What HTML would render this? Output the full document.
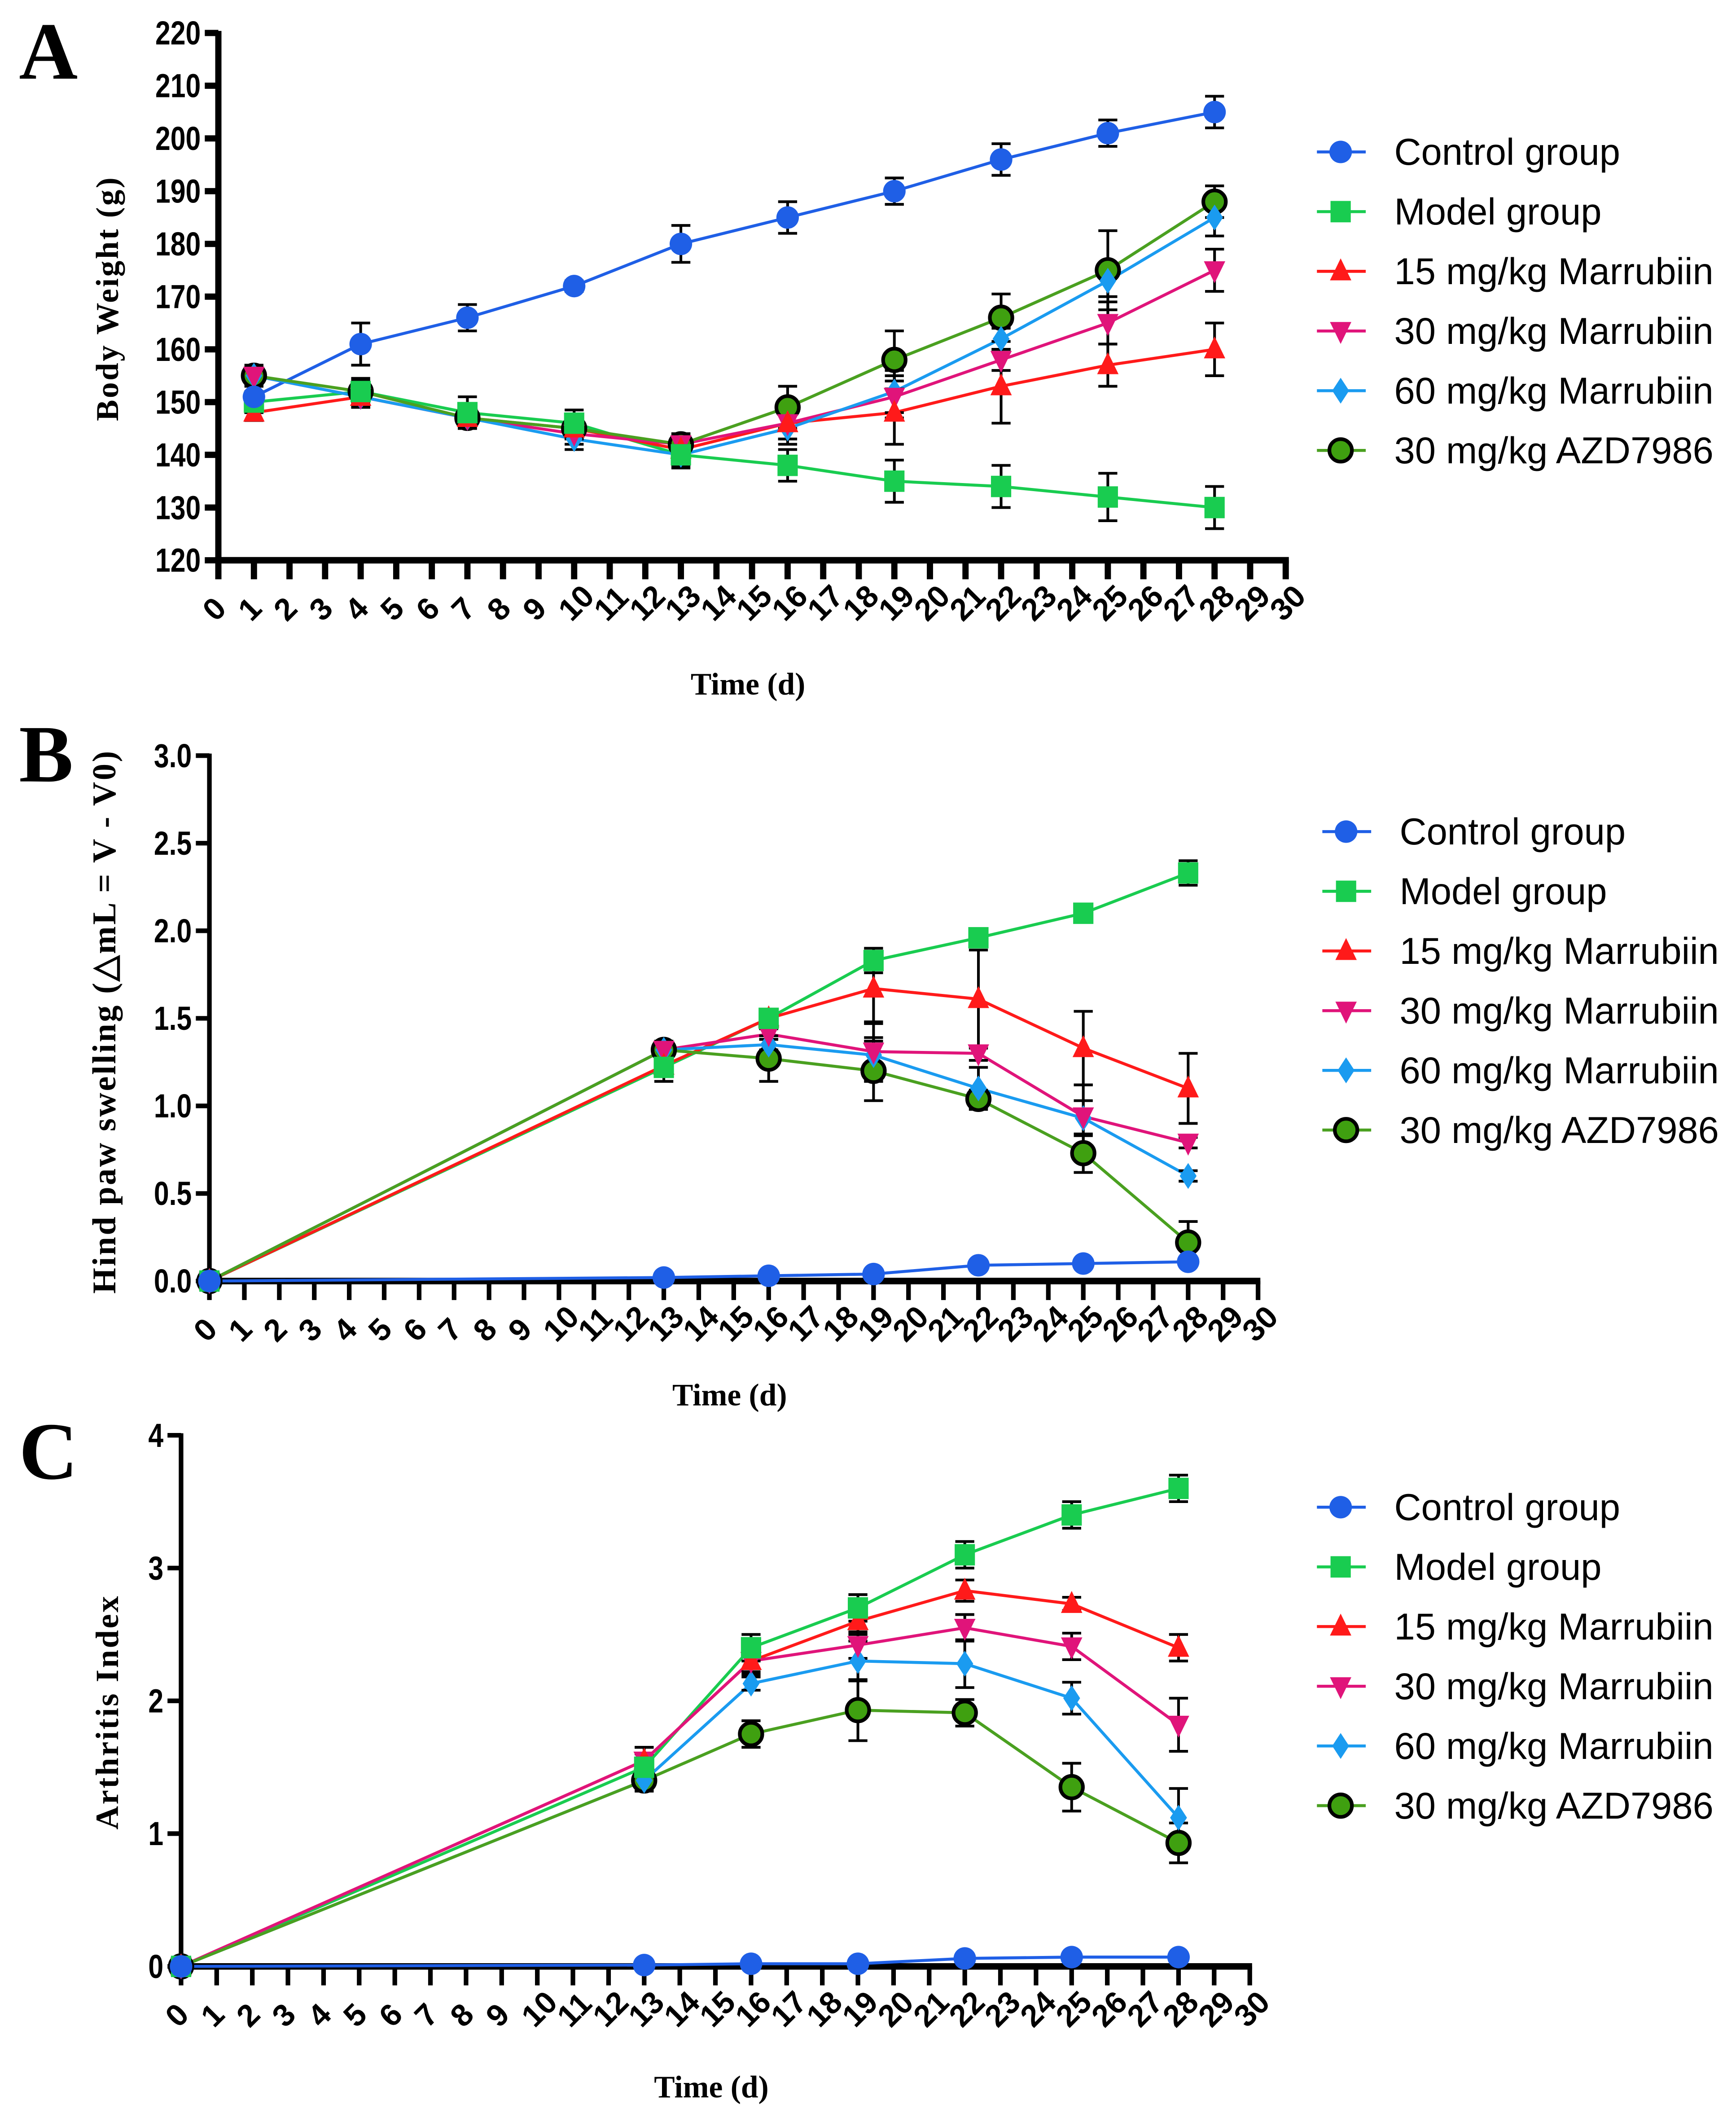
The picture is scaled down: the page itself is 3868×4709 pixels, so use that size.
<!DOCTYPE html>
<html><head><meta charset="utf-8">
<style>
html,body{margin:0;padding:0;background:#fff;}
svg{display:block;}
</style></head>
<body>
<svg id="fig" xmlns="http://www.w3.org/2000/svg" width="3868" height="4709" viewBox="0 0 1280 1558.3">
<rect width="1280" height="1558.3" fill="#fff"/>
</svg>
<script>
// ---- Panel A data (Body weight) ----
const daysA = [1,4,7,10,13,16,19,22,25,28];
const ctrlA = [151,161,166,172,180,185,190,196,201,205];
const ctrlAerr = [3,4,2.5,1,3.5,3,2.5,3,2.5,3];
const modelA = [150,152,148,146,140,138,135,134,132,130];
const modelAerr = [2,2,3,2.5,2.5,3,4,4,4.5,4];
const m15A = [148,151,147,145,141,146,148,153,157,160];
const m15Aerr = [1.5,2,2,2,2,3,6,7,4,5];
const m30A = [155,151,147,144,142,146,151,158,165,175];
const m30Aerr = [1.5,2,2,2,2,3,4,2,4,4];
const m60A = [155,151,147,143,140,145,152,162,173,185];
const m60Aerr = [1.5,2,2,2,2,3,4,2,3,3.5];
const azdA = [155,152,147,145,142,149,158,166,175,188];
const azdAerr = [2,2.5,2,2,2,4,5.5,4.5,7.5,3];
const ticksA = [120,130,140,150,160,170,180,190,200,210,220];

// ---- Panel B data (Hind paw swelling) ----
const daysB = [0,13,16,19,22,25,28];
const ctrlB = [0,0.02,0.03,0.04,0.09,0.10,0.11];
const ctrlBerr = [0,0,0,0,0,0,0];
const modelB = [0,1.22,1.50,1.83,1.96,2.10,2.33];
const modelBerr = [0,0.08,0.03,0.07,0.04,0.02,0.07];
const m15B = [0,1.23,1.50,1.67,1.61,1.33,1.10];
const m15Berr = [0,0.05,0.03,0.2,0.28,0.21,0.2];
const m30B = [0,1.32,1.41,1.31,1.30,0.94,0.79];
const m30Berr = [0,0.05,0.03,0.17,0.04,0.18,0.03];
const m60B = [0,1.32,1.35,1.29,1.10,0.93,0.60];
const m60Berr = [0,0.04,0.03,0.1,0.12,0.1,0.03];
const azdB = [0,1.32,1.27,1.20,1.04,0.73,0.22];
const azdBerr = [0,0.04,0.13,0.17,0.05,0.11,0.12];
const ticksB = [0,0.5,1.0,1.5,2.0,2.5,3.0];

// ---- Panel C data (Arthritis index) ----
const daysC = [0,13,16,19,22,25,28];
const ctrlC = [0,0.01,0.02,0.02,0.06,0.07,0.07];
const ctrlCerr = [0,0,0,0,0,0,0];
const modelC = [0,1.5,2.4,2.7,3.1,3.4,3.6];
const modelCerr = [0,0.1,0.1,0.1,0.1,0.1,0.1];
const m15C = [0,1.55,2.3,2.6,2.83,2.73,2.4];
const m15Cerr = [0,0.1,0.1,0.1,0.08,0.05,0.1];
const m30C = [0,1.55,2.3,2.42,2.55,2.41,1.82];
const m30Cerr = [0,0.1,0.08,0.1,0.1,0.1,0.2];
const m60C = [0,1.4,2.13,2.3,2.28,2.02,1.12];
const m60Cerr = [0,0.05,0.05,0.15,0.18,0.12,0.22];
const azdC = [0,1.4,1.75,1.93,1.91,1.35,0.93];
const azdCerr = [0,0.08,0.1,0.23,0.1,0.18,0.15];
const ticksC = [0,1,2,3,4];

const groupNames = ["Control group","Model group","15 mg/kg Marrubiin","30 mg/kg Marrubiin","60 mg/kg Marrubiin","30 mg/kg AZD7986"];
const xTicks = [0,1,2,3,4,5,6,7,8,9,10,11,12,13,14,15,16,17,18,19,20,21,22,23,24,25,26,27,28,29,30];

const NS = "http://www.w3.org/2000/svg";
const svg = document.getElementById("fig");
function mk(tag, attrs, parent){
  const e = document.createElementNS(NS, tag);
  for (const k in attrs) e.setAttribute(k, attrs[k]);
  (parent||svg).appendChild(e);
  return e;
}
const styles = [
  {line:"#1f5fe6", fill:"#1f5fe6", stroke:"none", shape:"circle"},
  {line:"#19cc50", fill:"#19cc50", stroke:"none", shape:"square"},
  {line:"#ff1a1a", fill:"#ff1a1a", stroke:"none", shape:"tri"},
  {line:"#e0147a", fill:"#e0147a", stroke:"none", shape:"tridown"},
  {line:"#1a9bf0", fill:"#1a9bf0", stroke:"none", shape:"diamond"},
  {line:"#4aa020", fill:"#3fa010", stroke:"#000", shape:"circle"}
];
function marker(g, s, x, y){
  const r = 8.3;
  let e;
  if (s.shape==="circle"){
    e = mk("circle",{cx:x,cy:y,r:r,fill:s.fill,stroke:s.stroke,"stroke-width":2.7},g);
  } else if (s.shape==="square"){
    e = mk("rect",{x:x-r*0.9,y:y-r*0.95,width:r*1.8,height:r*1.9,fill:s.fill},g);
  } else if (s.shape==="tri"){
    e = mk("polygon",{points:`${x},${y-r*1.15} ${x+r*0.95},${y+r*0.8} ${x-r*0.95},${y+r*0.8}`,fill:s.fill},g);
  } else if (s.shape==="tridown"){
    e = mk("polygon",{points:`${x},${y+r*1.15} ${x+r*0.95},${y-r*0.8} ${x-r*0.95},${y-r*0.8}`,fill:s.fill},g);
  } else {
    e = mk("polygon",{points:`${x},${y-r*1.15} ${x+r*0.75},${y} ${x},${y+r*1.15} ${x-r*0.75},${y}`,fill:s.fill},g);
  }
  
  
}

function panel(cfg){
  const {id,letter,letterY,x0,xEnd,y0,yTop,yMin,yMax,yTicks,yFmt,days,series,errs,ytitle,ytitleX,ytitleY,ytitleSize,xtitleY,legX,legY,tw} = cfg;
  const g = mk("g",{});
  
  
  const xs = d => x0 + (xEnd-x0)*d/30;
  const ys = v => y0 - (y0-yTop)*(v-yMin)/(yMax-yMin);
  const L = mk("text",{x:14,y:letterY,"font-family":"Liberation Serif, serif","font-weight":"bold","font-size":60},g);
  L.textContent = letter;
  
  
  const ax = mk("path",{d:`M${x0},${yTop-1.5} V${y0}`,fill:"none",stroke:"#000","stroke-width":tw},g);
  
  
  const xa = mk("line",{x1:x0-tw/2,y1:y0,x2:xEnd+tw/2,y2:y0,stroke:"#000","stroke-width":4.8},g);
  
  
  yTicks.forEach(t=>{
    const y = ys(t);
    mk("line",{x1:x0-10,y1:y,x2:x0,y2:y,stroke:"#000","stroke-width":tw},g);
    const tx = mk("text",{x:x0-13,y:y+8.5,"text-anchor":"end","font-family":"Liberation Sans, sans-serif","font-weight":"bold","font-size":24.5},g);
    tx.setAttribute("transform",`translate(${x0-13},${y}) scale(0.82,1) translate(${-(x0-13)},${-y})`);
    tx.textContent = yFmt(t);
    
    
  });
  xTicks.forEach(t=>{
    const x = xs(t);
    mk("line",{x1:x,y1:y0,x2:x,y2:y0+14,stroke:"#000","stroke-width":tw},g);
    const tx = mk("text",{x:0,y:0,"text-anchor":"start","font-family":"Liberation Sans, sans-serif","font-weight":"bold","font-size":23,transform:`translate(${x-2},${y0+46}) rotate(-45)`},g);
    tx.textContent = t;
    
    
  });
  const yt = mk("text",{x:0,y:0,"text-anchor":"middle","font-family":"Liberation Serif, serif","font-weight":"bold","font-size":ytitleSize,"letter-spacing":1.2,transform:`translate(${ytitleX},${ytitleY}) rotate(-90)`},g);
  yt.textContent = ytitle;
  
  
  const xt = mk("text",{x:(x0+xEnd)/2-3,y:xtitleY,"text-anchor":"middle","font-family":"Liberation Serif, serif","font-weight":"bold","font-size":23},g);
  xt.textContent = "Time (d)";
  
  
  series.forEach((vals,si)=>{
    const s = styles[si];
    const sg = mk("g",{},g);
    
    
    const pts = days.map((d,i)=>`${xs(d)},${ys(vals[i])}`).join(" ");
    mk("polyline",{points:pts,fill:"none",stroke:s.line,"stroke-width":2.2},sg);
  });
  series.forEach((vals,si)=>{
    const eg = mk("g",{},g);
    
    
    days.forEach((d,i)=>{
      const e = errs[si][i];
      if (!e) return;
      const x = xs(d), y1 = ys(vals[i]-e), y2 = ys(vals[i]+e);
      mk("line",{x1:x,y1:y1,x2:x,y2:y2,stroke:"#000","stroke-width":2},eg);
      mk("line",{x1:x-7,y1:y1,x2:x+7,y2:y1,stroke:"#000","stroke-width":2},eg);
      mk("line",{x1:x-7,y1:y2,x2:x+7,y2:y2,stroke:"#000","stroke-width":2},eg);
    });
  });
  [5,4,3,2,1,0].forEach(si=>{
    const mg = mk("g",{},g);
    
    
    days.forEach((d,i)=>marker(mg,styles[si],xs(d),ys(series[si][i])));
  });
  const lg = mk("g",{},g);
  
  
  groupNames.forEach((n,i)=>{
    const y = legY + i*44;
    const eg = mk("g",{},lg);
    
    
    mk("line",{x1:legX,y1:y,x2:legX+36,y2:y,stroke:styles[i].line,"stroke-width":2.2},eg);
    marker(eg,styles[i],legX+17.5,y);
    const t = mk("text",{x:legX+57,y:y+9.5,"font-family":"Liberation Sans, sans-serif","font-size":27.5},eg);
    t.textContent = n;
  });
}

panel({id:"body-weight",letter:"A",letterY:58,x0:161,xEnd:948,y0:413,yTop:24.3,yMin:120,yMax:220,yTicks:ticksA,yFmt:t=>String(t),
  days:daysA,series:[ctrlA,modelA,m15A,m30A,m60A,azdA],errs:[ctrlAerr,modelAerr,m15Aerr,m30Aerr,m60Aerr,azdAerr],
  ytitle:"Body Weight (g)",ytitleX:87,ytitleY:220,ytitleSize:23.5,xtitleY:512,legX:971,legY:112,tw:4.6});
panel({id:"hind-paw",letter:"B",letterY:576,x0:154.4,xEnd:927.6,y0:944.3,yTop:557,yMin:0,yMax:3,yTicks:ticksB,yFmt:t=>t.toFixed(1),
  days:daysB,series:[ctrlB,modelB,m15B,m30B,m60B,azdB],errs:[ctrlBerr,modelBerr,m15Berr,m30Berr,m60Berr,azdBerr],
  ytitle:"Hind paw swelling (△mL = V - V0)",ytitleX:85,ytitleY:753,ytitleSize:24.5,xtitleY:1036,legX:975,legY:613,tw:3.4});
panel({id:"arthritis-index",letter:"C",letterY:1090,x0:133.5,xEnd:921.5,y0:1449.5,yTop:1058,yMin:0,yMax:4,yTicks:ticksC,yFmt:t=>String(t),
  days:daysC,series:[ctrlC,modelC,m15C,m30C,m60C,azdC],errs:[ctrlCerr,modelCerr,m15Cerr,m30Cerr,m60Cerr,azdCerr],
  ytitle:"Arthritis Index",ytitleX:87,ytitleY:1262,ytitleSize:24,xtitleY:1546,legX:971,legY:1111,tw:3.4});
</script>
</body></html>
